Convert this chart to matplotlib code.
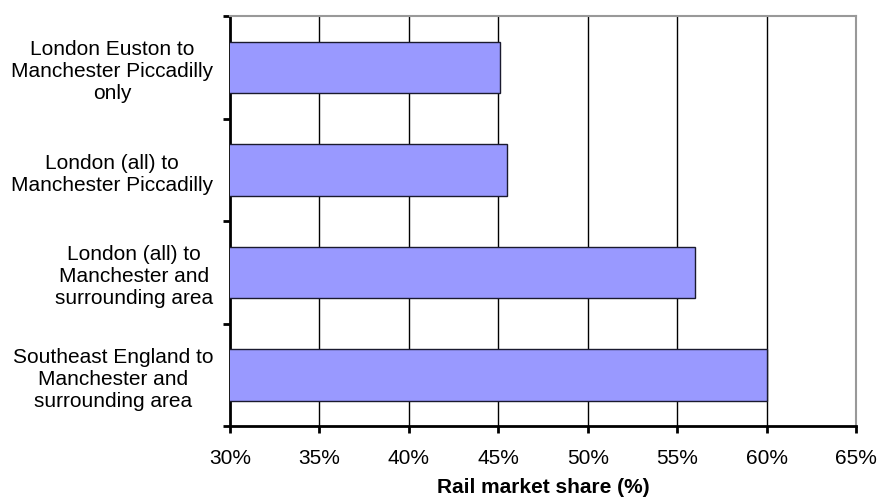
import matplotlib
matplotlib.use("Agg")
import numpy as np
import matplotlib.pyplot as plt
from matplotlib.ticker import FixedLocator, FuncFormatter

plt.rcParams['font.family'] = ['Liberation Sans', 'DejaVu Sans']

routes = ["London Euston to\nManchester Piccadilly\nonly",
          "London (all) to\nManchester Piccadilly",
          "London (all) to\nManchester and\nsurrounding area",
          "Southeast England to\nManchester and\nsurrounding area"]
share = [45.1, 45.5, 56.0, 60.0]
xticks = [30, 35, 40, 45, 50, 55, 60, 65]

fig = plt.figure(figsize=(8.79, 5.02), dpi=100)
ax = fig.add_axes([0.2617, 0.149, 0.7122, 0.817])

y = np.arange(len(routes))
ax.barh(y, share, height=0.5, left=0, color="#9999ff", edgecolor="#1a1a2e", linewidth=1.0, zorder=3)

ax.set_xlim(30, 65)
ax.set_ylim(len(routes) - 0.5, -0.5)

ax.set_xticks(xticks)
ax.xaxis.set_major_formatter(FuncFormatter(lambda v, p: "%d%%" % v))
for xv in xticks[1:-1]:
    ax.axvline(xv, color="black", linewidth=1.0, zorder=1)

ax.set_yticks(y)
ax.set_yticklabels(routes, multialignment="center", linespacing=1.2)
ax.yaxis.set_minor_locator(FixedLocator(np.arange(-0.5, len(routes), 1.0)))
ax.tick_params(axis="y", which="major", length=0, pad=12, labelsize=15)
ax.tick_params(axis="y", which="minor", length=5, width=2, direction="out")
ax.tick_params(axis="x", length=5, width=2, direction="out", pad=11, labelsize=15)

for side in ["left", "bottom"]:
    ax.spines[side].set_linewidth(2)
    ax.spines[side].set_color("black")
for side in ["top", "right"]:
    ax.spines[side].set_linewidth(1.5)
    ax.spines[side].set_color("#999999")

ax.set_xlabel("Rail market share (%)", fontsize=15, fontweight="bold", labelpad=7)

fig.savefig("out.png", dpi=100)
